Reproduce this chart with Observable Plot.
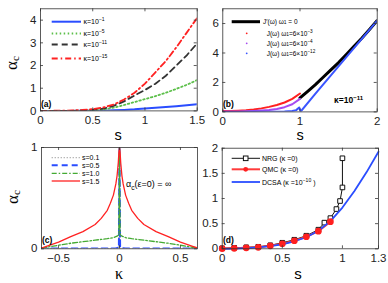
<!DOCTYPE html>
<html><head><meta charset="utf-8">
<script src="https://cdn.jsdelivr.net/npm/d3@7"></script>
<script src="https://cdn.jsdelivr.net/npm/@observablehq/plot@0.6"></script>
<style>
html,body{margin:0;padding:0;background:#fff;}
#wrap{position:relative;width:388px;height:283px;overflow:hidden;font-family:"Liberation Sans",Arial,sans-serif;}
#wrap > .p{position:absolute;}
#overlay{position:absolute;left:0;top:0;pointer-events:none;}
</style></head><body><div id="wrap"></div>
<script>
// ---------- Panel (a): alpha_c vs s for several kappa ----------
const aS    = [0,0.1,0.2,0.3,0.4,0.5,0.6,0.7,0.8,0.9,1.0,1.1,1.2,1.3,1.4,1.5];
const aK1   = [0,0,0,0,0.002,0.005,0.012,0.025,0.045,0.07,0.11,0.14,0.17,0.21,0.25,0.29];
const aK5   = [0,0,0,0,0.005,0.02,0.06,0.14,0.26,0.39,0.52,0.65,0.8,0.97,1.15,1.36];
const aK11  = [0,0,0,0.005,0.02,0.05,0.1,0.22,0.42,0.68,0.92,1.2,1.55,2.0,2.45,2.98];
const aK15  = [0,0.005,0.01,0.02,0.04,0.08,0.15,0.28,0.5,0.8,1.2,1.7,2.2,2.8,3.45,4.1];
const aXTicks = [0,0.5,1,1.5];
const aYTicks = [0,1,2,3,4];

// ---------- Panel (b): kappa = 1e-11 ----------
const bJ0s = [1.0,1.1,1.2,1.3,1.4,1.5,1.6,1.7,1.8,1.9,2.0];
const bJ0v = [0.95,1.4,1.85,2.35,2.85,3.35,3.9,4.45,5.0,5.6,6.2];
const bJ3s = [0,0.1,0.2,0.3,0.4,0.5,0.6,0.7,0.8,0.9,1.0];
const bJ3v = [0.06,0.06,0.08,0.11,0.16,0.24,0.34,0.47,0.64,0.88,1.25];
const bJ4s = [0,0.1,0.2,0.3,0.4,0.5,0.6,0.7,0.8,0.9,1.0];
const bJ4v = [0.02,0.02,0.03,0.04,0.06,0.09,0.13,0.2,0.32,0.52,0.88];
const bJ12s = [0,0.2,0.4,0.6,0.8,0.9,0.95,0.99,1.0,1.01,1.2,1.4,1.6,1.8,2.0];
const bJ12v = [0,0,0.005,0.01,0.03,0.06,0.12,0.3,0.15,0.03,1.24,2.48,3.72,4.96,6.2];
const bXTicks = [0,1,2];
const bYTicks = [0,2,4,6];

// ---------- Panel (c): alpha_c vs kappa ----------
const cK   = [-0.64,-0.6,-0.5,-0.4,-0.3,-0.2,-0.15,-0.1,-0.075,-0.05,-0.03,-0.02,-0.01,-0.005,0,0.005,0.01,0.02,0.03,0.05,0.075,0.1,0.15,0.2,0.3,0.4,0.5,0.6,0.64];
const cS01 = [0.002,0.002,0.002,0.002,0.002,0.002,0.002,0.002,0.002,0.002,0.002,0.003,0.004,0.005,1,0.005,0.004,0.003,0.002,0.002,0.002,0.002,0.002,0.002,0.002,0.002,0.002,0.002,0.002];
const cS05 = [0.004,0.004,0.004,0.004,0.004,0.004,0.004,0.004,0.004,0.004,0.006,0.008,0.012,0.02,1,0.02,0.012,0.008,0.006,0.004,0.004,0.004,0.004,0.004,0.004,0.004,0.004,0.004,0.004];
const cS10 = [0.008,0.015,0.035,0.055,0.07,0.085,0.093,0.1,0.105,0.11,0.12,0.125,0.135,0.14,1,0.14,0.135,0.125,0.12,0.11,0.105,0.1,0.093,0.085,0.07,0.055,0.035,0.015,0.008];
const cS15 = [0.008,0.025,0.065,0.12,0.17,0.24,0.3,0.38,0.45,0.53,0.64,0.72,0.85,0.95,1,0.95,0.85,0.72,0.64,0.53,0.45,0.38,0.3,0.24,0.17,0.12,0.065,0.025,0.008];
const cXTicks = [-0.5,0,0.5];
const cYTicks = [0,1];

// ---------- Panel (d): comparison ----------
const dNRGs = [0,0.1,0.2,0.3,0.4,0.5,0.6,0.7,0.8,0.85,0.9,0.95,0.98,1.0,1.0];
const dNRGv = [0.01,0.02,0.03,0.04,0.07,0.12,0.18,0.26,0.38,0.52,0.61,0.79,0.95,1.22,1.8];
const dQMCs = [0,0.1,0.2,0.3,0.4,0.5,0.6,0.7,0.8,0.9];
const dQMCv = [0.005,0.01,0.02,0.03,0.06,0.1,0.16,0.24,0.35,0.54];
const dDCSAs = [0,0.1,0.2,0.3,0.4,0.5,0.6,0.7,0.8,0.9,1.0,1.1,1.2,1.3];
const dDCSAv = [0,0.005,0.015,0.03,0.055,0.09,0.15,0.23,0.36,0.55,0.82,1.15,1.52,1.93];
const dXTicks = [0,0.5,1,1.3];
const dYTicks = [0,0.5,1,1.5,2];

const zip = (xs, ys) => xs.map((x, i) => ({x, y: ys[i]}));
const fmt = d => d < 0 ? "\u2212" + (-d) : String(d);
const AX = "#333";

function panel({left, top, width, height, ml, mr, mt, mb, xdom, ydom, xticks, yticks, marks}) {
  const iw = width - ml - mr, ih = height - mt - mb;
  const svg = Plot.plot({
    width, height, marginLeft: ml, marginRight: mr, marginTop: mt, marginBottom: mb,
    style: {fontFamily: '"Liberation Sans", Arial, sans-serif', fontSize: "11.5px", background: "transparent", color: "#222", overflow: "visible"},
    x: {domain: xdom}, y: {domain: ydom},
    marks: [
      ...marks,
      Plot.frame({stroke: AX, strokeWidth: 0.8}),
      Plot.tickX(xticks, {x: d => d, insetTop: ih - 3, stroke: AX, strokeWidth: 0.8}),
      Plot.tickX(xticks, {x: d => d, insetBottom: ih - 3, stroke: AX, strokeWidth: 0.8}),
      Plot.tickY(yticks, {y: d => d, insetRight: iw - 3, stroke: AX, strokeWidth: 0.8}),
      Plot.tickY(yticks, {y: d => d, insetLeft: iw - 3, stroke: AX, strokeWidth: 0.8}),
      Plot.axisX(xticks, {tickSize: 0, tickPadding: 5, label: null, tickFormat: fmt}),
      Plot.axisY(yticks, {tickSize: 0, tickPadding: 4, label: null, tickFormat: fmt})
    ]
  });
  svg.classList.add("p");
  svg.style.left = left + "px";
  svg.style.top = top + "px";
  document.getElementById("wrap").appendChild(svg);
}

// (a)
panel({left: 0, top: 0, width: 200, height: 141, ml: 40, mr: 3.3, mt: 8.3, mb: 30.6,
  xdom: [0, 1.5], ydom: [0, 4.5], xticks: aXTicks, yticks: aYTicks,
  marks: [
    Plot.line(zip(aS, aK1), {x: "x", y: "y", stroke: "#2a4dff", strokeWidth: 2, clip: true}),
    Plot.line(zip(aS, aK5), {x: "x", y: "y", stroke: "#5cbf4a", strokeWidth: 1.8, strokeDasharray: "1.5,2.5", clip: true}),
    Plot.line(zip(aS, aK11), {x: "x", y: "y", stroke: "#333", strokeWidth: 1.8, strokeDasharray: "6,4", clip: true}),
    Plot.line(zip(aS, aK15), {x: "x", y: "y", stroke: "#ff2222", strokeWidth: 1.8, strokeDasharray: "6,3,1.5,3", clip: true})
  ]});

// (b)
panel({left: 194, top: 0, width: 194, height: 141, ml: 28.3, mr: 11.3, mt: 8.3, mb: 29.6,
  xdom: [0, 2], ydom: [0, 7], xticks: bXTicks, yticks: bYTicks,
  marks: [
    Plot.line(zip(bJ0s, bJ0v), {x: "x", y: "y", stroke: "#000", strokeWidth: 3, clip: true}),
    Plot.line(zip(bJ3s, bJ3v), {x: "x", y: "y", stroke: "#ff2020", strokeWidth: 2, clip: true}),
    Plot.line(zip(bJ4s, bJ4v), {x: "x", y: "y", stroke: "#a64bf0", strokeWidth: 2, clip: true}),
    Plot.line(zip(bJ12s, bJ12v), {x: "x", y: "y", stroke: "#3a55ff", strokeWidth: 2, clip: true})
  ]});

// (c)
panel({left: 0, top: 141, width: 200, height: 142, ml: 41, mr: 3, mt: 6, mb: 34.7,
  xdom: [-0.64, 0.64], ydom: [0, 1], xticks: cXTicks, yticks: cYTicks,
  marks: [
    Plot.line(zip(cK, cS01), {x: "x", y: "y", stroke: "#999", strokeWidth: 1.2, strokeDasharray: "1,2", clip: true}),
    Plot.line(zip(cK, cS05), {x: "x", y: "y", stroke: "#2a4dff", strokeWidth: 2, strokeDasharray: "6,4", clip: true}),
    Plot.line(zip(cK, cS10), {x: "x", y: "y", stroke: "#44aa33", strokeWidth: 1.3, strokeDasharray: "5,2,1.5,2", clip: true}),
    Plot.line(zip(cK, cS15), {x: "x", y: "y", stroke: "#ff2222", strokeWidth: 1.3, clip: true})
  ]});

// (d)
panel({left: 194, top: 141, width: 194, height: 142, ml: 27.7, mr: 10, mt: 6.7, mb: 34.7,
  xdom: [0, 1.3], ydom: [0, 2], xticks: dXTicks, yticks: dYTicks,
  marks: [
    Plot.line(zip(dNRGs, dNRGv), {x: "x", y: "y", stroke: "#111", strokeWidth: 1}),
    Plot.dot(zip(dNRGs, dNRGv), {x: "x", y: "y", symbol: "square", r: 2.6, fill: "#fff", stroke: "#111", strokeWidth: 1}),
    Plot.line(zip(dQMCs, dQMCv), {x: "x", y: "y", stroke: "#ff3b3b", strokeWidth: 2}),
    Plot.line(zip(dDCSAs, dDCSAv), {x: "x", y: "y", stroke: "#2a4dff", strokeWidth: 1.8}),
    Plot.dot(zip(dQMCs, dQMCv), {x: "x", y: "y", r: 2.6, fill: "#ff2020", stroke: "#ff2020"})
  ]});

// ---------- overlay: axis labels, legends, annotations ----------
const SANS = '"Liberation Sans", Arial, sans-serif';
const SERIF = '"Liberation Serif", "Times New Roman", serif';
function sup(t){return `<tspan font-size="0.72em" dy="-3">${t}</tspan><tspan dy="3"> </tspan>`;}
const ov = `
<svg id="overlay" width="388" height="283" xmlns="http://www.w3.org/2000/svg" font-family='${SANS}'>
  <!-- axis labels -->
  <text transform="translate(17,63) rotate(-90)" text-anchor="middle" font-family='${SERIF}' font-size="17">α<tspan font-size="11" dy="1.5">c</tspan></text>
  <text transform="translate(18,197) rotate(-90)" text-anchor="middle" font-family='${SERIF}' font-size="17">α<tspan font-size="11" dy="1.5">c</tspan></text>
  <text x="118" y="139.5" text-anchor="middle" font-size="14.5">s</text>
  <text x="300" y="139.5" text-anchor="middle" font-size="14.5">s</text>
  <text x="298" y="279" text-anchor="middle" font-size="15">s</text>
  <text x="119" y="279" text-anchor="middle" font-family='${SERIF}' font-size="16">κ</text>
  <!-- panel tags -->
  <text x="41" y="107" font-size="8.5" font-weight="bold">(a)</text>
  <text x="223" y="107" font-size="8.5" font-weight="bold">(b)</text>
  <text x="42" y="243" font-size="8.5" font-weight="bold">(c)</text>
  <text x="223" y="243" font-size="8.5" font-weight="bold">(d)</text>
  <!-- legend (a) -->
  <g font-size="7">
    <line x1="51.7" x2="81" y1="21.7" y2="21.7" stroke="#2a4dff" stroke-width="2"/>
    <text x="83.5" y="24">κ=10${sup("−1")}</text>
    <line x1="51.7" x2="81" y1="33.5" y2="33.5" stroke="#5cbf4a" stroke-width="1.8" stroke-dasharray="1.5,2.5"/>
    <text x="83.5" y="36">κ=10${sup("−5")}</text>
    <line x1="51.7" x2="81" y1="44.5" y2="44.5" stroke="#333" stroke-width="1.8" stroke-dasharray="6,4"/>
    <text x="83.5" y="47">κ=10${sup("−11")}</text>
    <line x1="51.7" x2="81" y1="58.5" y2="58.5" stroke="#ff2222" stroke-width="1.8" stroke-dasharray="6,3,1.5,3"/>
    <text x="83.5" y="61">κ=10${sup("−15")}</text>
  </g>
  <!-- legend (b) -->
  <g font-size="6.5">
    <line x1="231.7" x2="260" y1="21.7" y2="21.7" stroke="#000" stroke-width="3"/>
    <text x="263" y="24">J′(ω) ω<tspan font-size="0.75em">1</tspan> = 0</text>
    <circle cx="246.7" cy="33.3" r="0.9" fill="#ff2020"/>
    <text x="266.7" y="35.6">J(ω) ω<tspan font-size="0.75em">1</tspan>=6×10${sup("−3")}</text>
    <circle cx="246.7" cy="43.3" r="0.9" fill="#a64bf0"/>
    <text x="266.7" y="45.6">J(ω) ω<tspan font-size="0.75em">1</tspan>=6×10${sup("−4")}</text>
    <circle cx="246.7" cy="53.3" r="0.9" fill="#3a55ff"/>
    <text x="266.7" y="55.6">J(ω) ω<tspan font-size="0.75em">1</tspan>=6×10${sup("−12")}</text>
  </g>
  <text x="334" y="103" font-size="8.5" font-weight="bold">κ=10${sup("−11")}</text>
  <!-- legend (c) -->
  <g font-size="7">
    <line x1="51.7" x2="80" y1="157.7" y2="157.7" stroke="#999" stroke-width="1.2" stroke-dasharray="1,2"/>
    <text x="82" y="160.2">s=0.1</text>
    <line x1="51.7" x2="80" y1="165.3" y2="165.3" stroke="#2a4dff" stroke-width="2" stroke-dasharray="6,4"/>
    <text x="82" y="167.8">s=0.5</text>
    <line x1="51.7" x2="80" y1="173.3" y2="173.3" stroke="#44aa33" stroke-width="1.3" stroke-dasharray="5,2,1.5,2"/>
    <text x="82" y="175.8">s=1.0</text>
    <line x1="51.7" x2="80" y1="181" y2="181" stroke="#ff2222" stroke-width="1.3"/>
    <text x="82" y="183.5">s=1.5</text>
  </g>
  <text x="126" y="187" font-size="9">α<tspan font-size="0.75em" dy="2.5">c</tspan><tspan dy="-2.5">(ε=0) = ∞</tspan></text>
  <!-- legend (d) -->
  <g font-size="7">
    <line x1="231.7" x2="260" y1="158.3" y2="158.3" stroke="#111" stroke-width="1"/>
    <rect x="243.4" y="156" width="4.6" height="4.6" fill="#fff" stroke="#111" stroke-width="1"/>
    <text x="262" y="160.8">NRG (κ =0)</text>
    <line x1="231.7" x2="260" y1="169.3" y2="169.3" stroke="#ff3b3b" stroke-width="2"/>
    <circle cx="245.7" cy="169.3" r="2.4" fill="#ff2020"/>
    <text x="262" y="171.8">QMC (κ =0)</text>
    <line x1="231.7" x2="260" y1="182" y2="182" stroke="#2a4dff" stroke-width="1.8"/>
    <text x="262" y="184.5">DCSA (κ =10${sup("−10")})</text>
  </g>
</svg>`;
document.getElementById("wrap").insertAdjacentHTML("beforeend", ov);
</script></body></html>
